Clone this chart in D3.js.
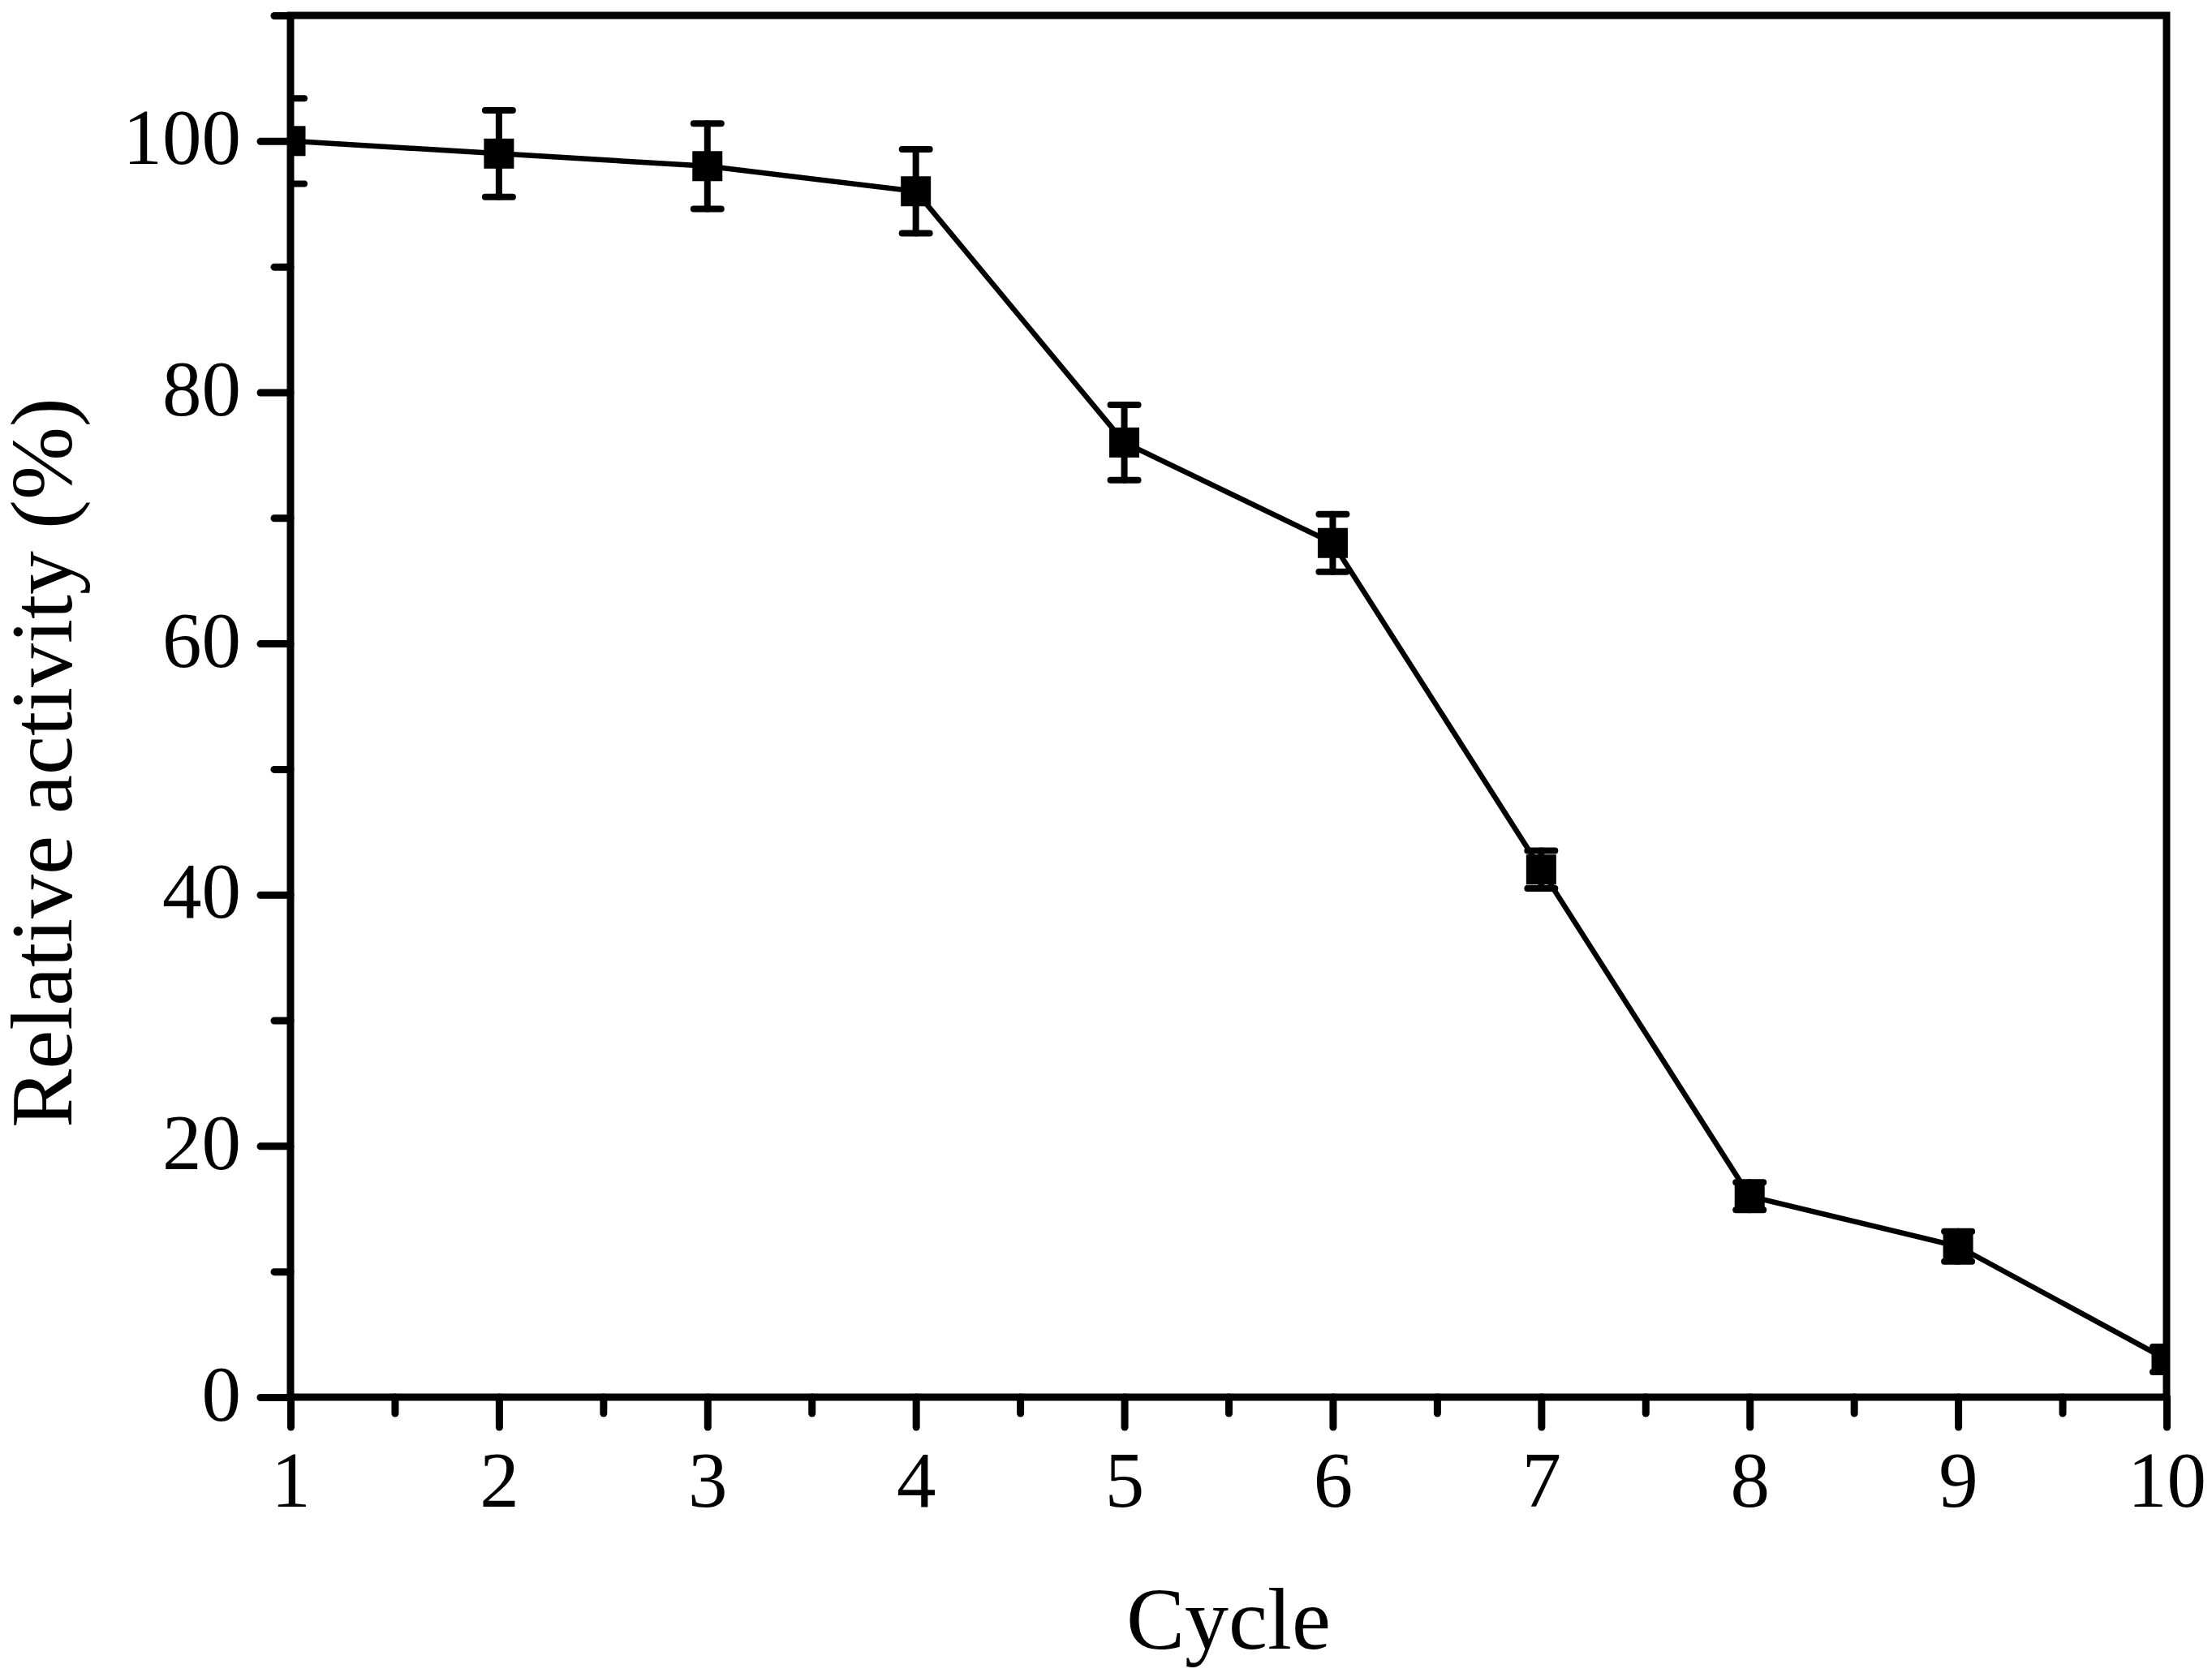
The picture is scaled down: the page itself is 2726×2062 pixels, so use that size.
<!DOCTYPE html>
<html>
<head>
<meta charset="utf-8">
<script src="https://cdn.jsdelivr.net/npm/d3@7"></script>
<style>
  html, body { margin: 0; padding: 0; background: #fff; }
  svg { display: block; }
  text { font-family: "Liberation Serif", "Times New Roman", serif; fill: #000; }
</style>
</head>
<body>
<svg id="svg"></svg>
<script>
// values
const cycles   = [1, 2, 3, 4, 5, 6, 7, 8, 9, 10];
const activity = [100, 99, 98, 96, 76, 68, 42, 16, 12, 3];
const errors   = [3.4, 3.45, 3.4, 3.35, 3.0, 2.3, 1.5, 1.1, 1.2, 1.0];
const yTicks   = [0, 20, 40, 60, 80, 100];
const yMinor   = [10, 30, 50, 70, 90, 110];
const xTicks   = [1, 2, 3, 4, 5, 6, 7, 8, 9, 10];
const xMinor   = [1.5, 2.5, 3.5, 4.5, 5.5, 6.5, 7.5, 8.5, 9.5];

const width = 2726, height = 2062;
const m = { top: 19, right: 56, bottom: 340, left: 358 };
const iw = width - m.left - m.right, ih = height - m.top - m.bottom;

const svg = d3.select('#svg').attr('width', width).attr('height', height);

const x = d3.scaleLinear().domain([1, 10]).range([m.left, m.left + iw]);
const y = d3.scaleLinear().domain([0, 110]).range([m.top + ih, m.top]);

const data = cycles.map((c, i) => ({ c, v: activity[i], e: errors[i] }));

svg.append('clipPath').attr('id', 'plot')
  .append('rect').attr('x', m.left).attr('y', m.top).attr('width', iw).attr('height', ih);

const g = svg.append('g').attr('clip-path', 'url(#plot)');

g.append('path').datum(data)
  .attr('fill', 'none').attr('stroke', '#000').attr('stroke-width', 6.5)
  .attr('stroke-linejoin', 'miter')
  .attr('d', d3.line().x(d => x(d.c)).y(d => y(d.v)));

const eb = g.append('g').attr('stroke', '#000').attr('stroke-width', 8).attr('stroke-linecap', 'round');
eb.selectAll('line.stem').data(data).join('line').attr('class', 'stem')
  .attr('x1', d => x(d.c)).attr('x2', d => x(d.c))
  .attr('y1', d => y(d.v - d.e)).attr('y2', d => y(d.v + d.e));
eb.selectAll('line.capt').data(data).join('line').attr('class', 'capt')
  .attr('x1', d => x(d.c) - 17).attr('x2', d => x(d.c) + 17)
  .attr('y1', d => y(d.v + d.e)).attr('y2', d => y(d.v + d.e));
eb.selectAll('line.capb').data(data).join('line').attr('class', 'capb')
  .attr('x1', d => x(d.c) - 17).attr('x2', d => x(d.c) + 17)
  .attr('y1', d => y(d.v - d.e)).attr('y2', d => y(d.v - d.e));

const s = 37;
g.selectAll('rect.pt').data(data).join('rect').attr('class', 'pt')
  .attr('x', d => x(d.c) - s / 2).attr('y', d => y(d.v) - s / 2)
  .attr('width', s).attr('height', s).attr('fill', '#000');

// axes
function styleAxis(sel) {
  sel.select('.domain').remove();
  sel.selectAll('.tick line').attr('stroke', '#000').attr('stroke-width', 9).attr('stroke-linecap', 'round');
  sel.selectAll('.tick text').attr('font-size', 97).attr('fill', '#000');
}

svg.append('g').attr('transform', `translate(${m.left},0)`)
  .call(d3.axisLeft(y).tickValues(yMinor).tickSize(20).tickFormat(''))
  .call(styleAxis);
svg.append('g').attr('transform', `translate(${m.left},0)`)
  .call(d3.axisLeft(y).tickValues(yTicks).tickSize(37).tickPadding(24).tickFormat(d3.format('d')))
  .call(styleAxis)
  .call(a => a.selectAll('.tick text').attr('dy', '0.29em'));

svg.append('g').attr('transform', `translate(0,${m.top + ih})`)
  .call(d3.axisBottom(x).tickValues(xMinor).tickSize(20).tickFormat(''))
  .call(styleAxis);
svg.append('g').attr('transform', `translate(0,${m.top + ih})`)
  .call(d3.axisBottom(x).tickValues(xTicks).tickSize(37).tickPadding(29).tickFormat(d3.format('d')))
  .call(styleAxis);

svg.append('rect')
  .attr('x', m.left).attr('y', m.top).attr('width', iw).attr('height', ih)
  .attr('fill', 'none').attr('stroke', '#000').attr('stroke-width', 9);

svg.append('text')
  .attr('x', m.left + iw / 2).attr('y', 2032)
  .attr('text-anchor', 'middle').attr('font-size', 108)
  .text('Cycle');

svg.append('text')
  .attr('transform', 'translate(88,940) rotate(-90)')
  .attr('text-anchor', 'middle').attr('font-size', 108)
  .text('Relative activity (%)');
</script>
</body>
</html>
